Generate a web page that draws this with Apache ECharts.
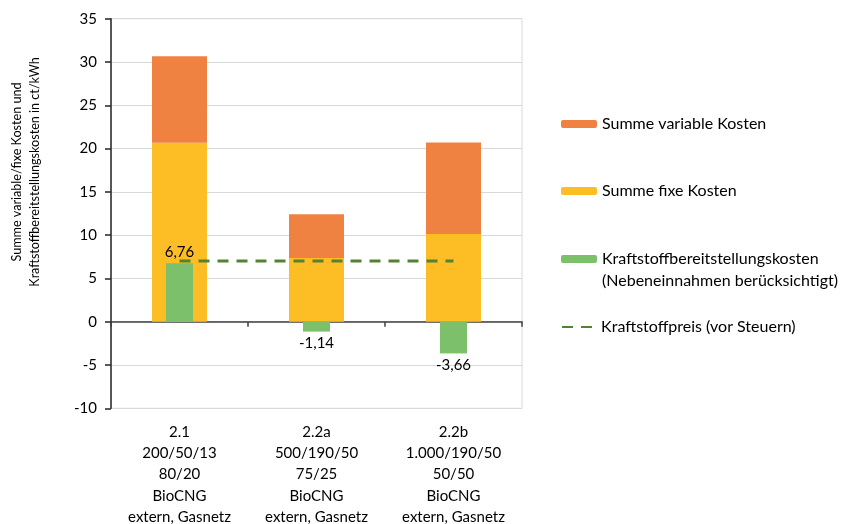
<!DOCTYPE html>
<html>
<head>
<meta charset="utf-8">
<script src="https://cdn.jsdelivr.net/npm/echarts@6/dist/echarts.min.js"></script>
<style>html,body{margin:0;padding:0;background:#fff}#c{width:844px;height:524px}</style>
</head>
<body>
<div id="c"></div>
<script>
const categoryLines = [
  ['2.1', '200/50/13', '80/20', 'BioCNG', 'extern, Gasnetz'],
  ['2.2a', '500/190/50', '75/25', 'BioCNG', 'extern, Gasnetz'],
  ['2.2b', '1.000/190/50', '50/50', 'BioCNG', 'extern, Gasnetz']
];
const fixeKosten = [20.67, 7.36, 10.13];
const variableKosten = [10.0, 5.04, 10.57];
const bereitstellung = [6.76, -1.14, -3.66];
const kraftstoffpreis = [7.0, 7.0, 7.0];
const yTicks = {min: -10, max: 35, interval: 5};
const names = ['Summe variable Kosten', 'Summe fixe Kosten',
  'Kraftstoffbereitstellungskosten\n(Nebeneinnahmen berücksichtigt)', 'Kraftstoffpreis (vor Steuern)'];
const yName = 'Summe variable/fixe Kosten und\nKraftstoffbereitstellungskosten in ct/kWh';

const categories = categoryLines.map(l => l.join('\n'));
const FONT = 'Lato';
const chart = echarts.init(document.getElementById('c'));
const legendBase = {
  orient: 'vertical', left: 561, padding: 0, itemWidth: 36, itemHeight: 8,
  itemGap: 0, textStyle: {fontFamily: FONT, fontSize: 16, color: '#000', lineHeight: 20}
};
const greenData = bereitstellung.map(v => ({
  value: v,
  label: {position: v < 0 ? 'bottom' : 'top'}
}));
chart.setOption({
  animation: false,
  textStyle: {fontFamily: FONT},
  grid: {left: 111, right: 322, top: 18.7, bottom: 115.7, show: true, borderColor: '#D9D9D9', borderWidth: 1,
    containLabel: false, outerBoundsMode: 'none'},
  legend: [
    Object.assign({}, legendBase, {data: [names[0]], top: 114}),
    Object.assign({}, legendBase, {data: [names[1]], top: 181}),
    Object.assign({}, legendBase, {data: [names[2]], top: 226,
      formatter: n => ' \n' + n,
      textStyle: Object.assign({}, legendBase.textStyle, {lineHeight: 22})}),
    Object.assign({}, legendBase, {data: [names[3]], top: 317, itemWidth: 30, itemStyle: {opacity: 0},
      formatter: n => ' ' + n})
  ],
  xAxis: [{
    type: 'category', data: categories, position: 'bottom',
    axisLine: {show: false, onZero: false}, axisTick: {show: false},
    axisLabel: {fontFamily: FONT, fontSize: 15, color: '#000', lineHeight: 21.3, margin: 13, interval: 0}
  }, {
    type: 'category', data: categories, position: 'bottom',
    axisLine: {show: true, onZero: true, lineStyle: {color: '#404040', width: 1.5}},
    axisTick: {show: true, length: 5, lineStyle: {color: '#404040', width: 1.5}},
    axisLabel: {show: false}
  }],
  yAxis: {
    type: 'value', min: yTicks.min, max: yTicks.max, interval: yTicks.interval,
    name: yName, nameLocation: 'middle', nameGap: 67, nameRotate: 90,
    nameTextStyle: {fontFamily: FONT, fontSize: 12.6, lineHeight: 18, color: '#000', padding: [0, 0, 0, 83]},
    axisLine: {show: true, lineStyle: {color: '#262626', width: 1.5}},
    axisTick: {show: true, length: 6, lineStyle: {color: '#262626', width: 1.5}},
    axisLabel: {fontFamily: FONT, fontSize: 15, color: '#000', margin: 14},
    splitLine: {lineStyle: {color: '#D9D9D9', width: 1}}
  },
  series: [
    {name: names[1], type: 'bar', stack: 'k', xAxisIndex: 0, data: fixeKosten, barWidth: 55, itemStyle: {color: '#FCBD25'}},
    {name: names[0], type: 'bar', stack: 'k', xAxisIndex: 0, data: variableKosten, barWidth: 55, itemStyle: {color: '#EF8240'}},
    {name: names[2], type: 'bar', xAxisIndex: 1, data: greenData, barWidth: 27, itemStyle: {color: '#7DC06C'},
      label: {show: true, fontFamily: FONT, fontSize: 15, color: '#000', distance: 4,
        formatter: p => String(p.value).replace('.', ',')}},
    {name: names[3], type: 'line', xAxisIndex: 0, data: kraftstoffpreis, symbol: 'none',
      lineStyle: {color: '#548235', width: 3, type: [11, 8]}, itemStyle: {color: '#548235'}, z: 5}
  ]
});
</script>
</body>
</html>
